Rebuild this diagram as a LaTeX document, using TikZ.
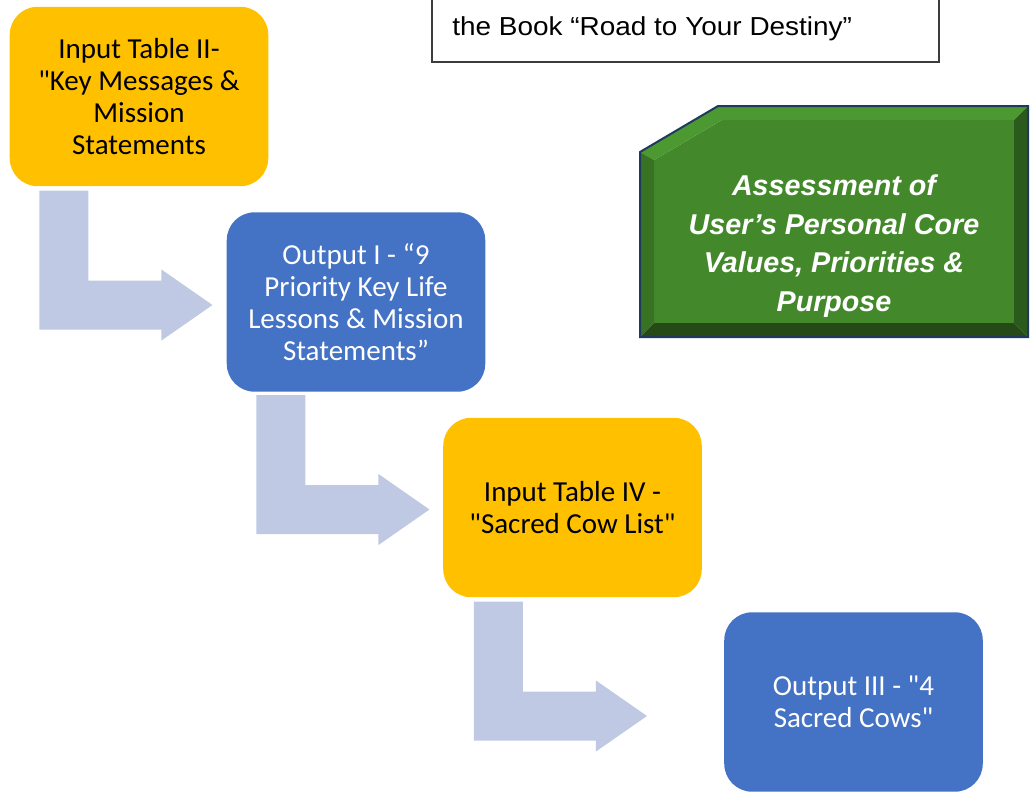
\documentclass[tikz,border=0pt]{standalone}
\usepackage{fontspec}
\setmainfont{Carlito}[Ligatures=TeXOff]
\newfontfamily\arialf{Liberation Sans}
\newfontfamily\topf[FakeStretch=1.075]{Liberation Sans}
\usetikzlibrary{calc}
\definecolor{ybox}{HTML}{FFC000}
\definecolor{bbox}{HTML}{4472C4}
\definecolor{arrowc}{HTML}{BFC9E3}
\definecolor{gface}{RGB}{67,137,44}
\definecolor{gtop}{RGB}{76,152,49}
\definecolor{gleft}{RGB}{56,115,36}
\definecolor{gright}{RGB}{43,90,29}
\definecolor{gbot}{RGB}{37,74,24}
\definecolor{gline}{RGB}{30,58,95}
\definecolor{topline}{RGB}{60,60,60}
\tikzset{
  flowbox/.style={rounded corners=21pt, minimum width=193.9pt, minimum height=134.6pt,
    inner sep=0pt, align=center, font=\fontsize{21.75pt}{24pt}\selectfont},
  inbox/.style={flowbox, fill=ybox, text=black},
  outbox/.style={flowbox, fill=bbox, text=white},
  pics/bentarrow/.style={code={
    \fill[arrowc] (0,0) -- (49,0) -- (49,90) -- (122,90) -- (122,79) -- (173,114.5)
      -- (122,150) -- (122,139) -- (0,139) -- cycle;}},
  greentext/.style={text=white, align=center,
    font=\arialf\bfseries\itshape\fontsize{21.5pt}{29pt}\selectfont},
  booktext/.style={font=\topf\fontsize{19.5pt}{22pt}\selectfont, inner sep=0pt}
}
\begin{document}
\begin{tikzpicture}[x=0.75pt,y=-0.75pt]
\useasboundingbox (0,0) rectangle (1030,792);

% top text box (cut off at the top)
\draw[topline, line width=1.1pt] (432,-10) rectangle (939,62);
\node[booktext, anchor=base west] (book) at (452,36) {the Book “Road to Your Destiny”};

% flow boxes
\node[inbox] (in2) at (139,96.5) {Input Table II-\\"Key Messages \&\\Mission\\Statements};
\node[outbox] (out1) at (356,302) {Output I - “9\\Priority Key Life\\Lessons \& Mission\\Statements”};
\node[inbox] (in4) at (572.5,507.5) {Input Table IV -\\"Sacred Cow List"};
\node[outbox] (out3) at (853.5,702) {Output III - "4\\Sacred Cows"};

% bent arrows
\pic at ($(in2.south west)+(30,4)$) {bentarrow};
\pic at ($(out1.south west)+(30,3)$) {bentarrow};
\pic at ($(in4.south west)+(31,4)$) {bentarrow};

% green bevel shape
\fill[gface] (654,160) -- (722,120) -- (1014,120) -- (1014,323) -- (654,323) -- cycle;
\fill[gtop] (640,152) -- (718,106) -- (1028,106) -- (1014,120) -- (722,120) -- (654,160) -- cycle;
\fill[gleft] (640,152) -- (654,160) -- (654,323) -- (640,337) -- cycle;
\fill[gright] (1028,106) -- (1028,337) -- (1014,323) -- (1014,120) -- cycle;
\fill[gbot] (640,337) -- (1028,337) -- (1014,323) -- (654,323) -- cycle;
\draw[gline, line width=1.5pt, line join=miter] (640,152) -- (718,106) -- (1028,106) -- (1028,337) -- (640,337) -- cycle;
\node[greentext] (assess) at (834,246) {Assessment of\\User’s Personal Core\\Values, Priorities \&\\Purpose};
\end{tikzpicture}
\end{document}
